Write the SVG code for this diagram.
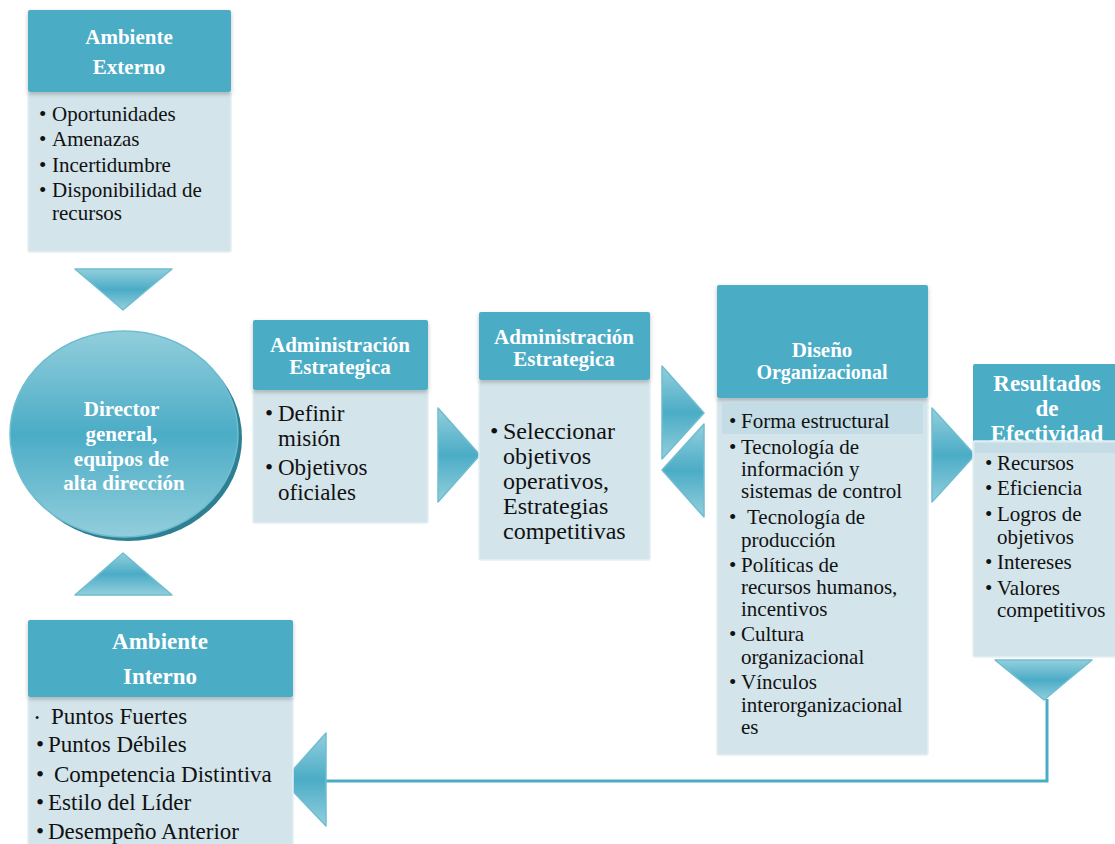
<svg xmlns="http://www.w3.org/2000/svg" width="1115" height="844" viewBox="0 0 1115 844" font-family="'Liberation Serif', 'Times New Roman', Times, serif">
  <defs>
    <linearGradient id="arrowGrad" x1="0" y1="0" x2="0" y2="1">
      <stop offset="0" stop-color="#93CFDD"/>
      <stop offset="0.5" stop-color="#4BACC6"/>
      <stop offset="1" stop-color="#93CFDD"/>
    </linearGradient>
    <linearGradient id="circleGrad" x1="0" y1="0" x2="0" y2="1">
      <stop offset="0" stop-color="#92CEDC"/>
      <stop offset="0.5" stop-color="#4BACC6"/>
      <stop offset="1" stop-color="#92CEDC"/>
    </linearGradient>
    <filter id="hdrShadow" x="-5%" y="-5%" width="110%" height="120%">
      <feDropShadow dx="0" dy="2" stdDeviation="2" flood-color="#000" flood-opacity="0.25"/>
    </filter>
  </defs>
  <style>
    .hdr { fill: #4BACC6; }
    .body { fill: #D3E4EB; stroke: #E3EEF2; stroke-width: 1.5; }
    .band { fill: #C3DCE5; }
    .arrow { fill: url(#arrowGrad); stroke: #6FBDD0; stroke-width: 1.5; stroke-linejoin: round; }
    .ht { font-weight: bold; fill: #FFFFFF; text-anchor: middle; }
    .bt { fill: #111111; }
    .link { fill: none; stroke: #4BACC6; stroke-width: 3; }
  </style>

  <rect width="1115" height="844" fill="#FFFFFF"/>

  <!-- connectors: chevrons and feedback line -->
  <g id="connectors">
    <polyline class="link" points="326,781 1047,781 1047,699"/>
    <polygon class="arrow" points="75,269 172,269 123,310"/>
    <polygon class="arrow" points="75,595 172,595 123,553"/>
    <polygon class="arrow" points="438,408 480,455 438,502"/>
    <polygon class="arrow" points="662,366 704,413 662,459"/>
    <polygon class="arrow" points="704,424 662,470 704,517"/>
    <polygon class="arrow" points="932,408 975,455 932,502"/>
    <polygon class="arrow" points="995,660 1092,660 1044,700"/>
    <polygon class="arrow" points="326,733 326,826 283,781"/>
  </g>

  <!-- Ambiente Externo -->
  <g id="ambiente-externo">
    <rect class="body" x="28" y="92" width="203" height="160" rx="2"/>
    <rect class="hdr" x="28" y="10" width="203" height="82" rx="2" filter="url(#hdrShadow)"/>
    <text class="ht" font-size="21"><tspan x="129" y="44">Ambiente</tspan><tspan x="129" y="74">Externo</tspan></text>
    <text class="bt" font-size="21">
      <tspan x="39" y="121">•</tspan><tspan x="52" y="121">Oportunidades</tspan>
      <tspan x="39" y="146">•</tspan><tspan x="52" y="146">Amenazas</tspan>
      <tspan x="39" y="172">•</tspan><tspan x="52" y="172">Incertidumbre</tspan>
      <tspan x="39" y="197">•</tspan><tspan x="52" y="197">Disponibilidad de</tspan>
      <tspan x="52" y="220">recursos</tspan>
    </text>
  </g>

  <!-- Director general -->
  <g id="director">
    <ellipse cx="128" cy="438" rx="114" ry="103" fill="#2F7F93"/>
    <ellipse cx="124" cy="434" rx="114" ry="103" fill="url(#circleGrad)" stroke="#6FBDD0" stroke-width="1.5"/>
    <text class="ht" font-size="21">
      <tspan x="124" y="416">Director</tspan>
      <tspan x="124" y="441">general,</tspan>
      <tspan x="124" y="466">equipos de</tspan>
      <tspan x="124" y="490">alta dirección</tspan>
    </text>
  </g>

  <!-- Administración Estrategica (misión) -->
  <g id="admin-estrategica-1">
    <rect class="body" x="253" y="390" width="175" height="133" rx="2"/>
    <rect class="hdr" x="253" y="320" width="175" height="70" rx="2" filter="url(#hdrShadow)"/>
    <text class="ht" font-size="21"><tspan x="340" y="352">Administración</tspan><tspan x="340" y="374">Estrategica</tspan></text>
    <text class="bt" font-size="23">
      <tspan x="265" y="421">•</tspan><tspan x="278" y="421">Definir</tspan>
      <tspan x="278" y="446">misión</tspan>
      <tspan x="265" y="475">•</tspan><tspan x="278" y="475">Objetivos</tspan>
      <tspan x="278" y="500">oficiales</tspan>
    </text>
  </g>

  <!-- Administración Estrategica (objetivos operativos) -->
  <g id="admin-estrategica-2">
    <rect class="body" x="479" y="380" width="171" height="180" rx="2"/>
    <rect class="hdr" x="479" y="312" width="171" height="68" rx="2" filter="url(#hdrShadow)"/>
    <text class="ht" font-size="21"><tspan x="564" y="344">Administración</tspan><tspan x="564" y="366">Estrategica</tspan></text>
    <text class="bt" font-size="24">
      <tspan x="490" y="439">•</tspan><tspan x="503" y="439">Seleccionar</tspan>
      <tspan x="503" y="464">objetivos</tspan>
      <tspan x="503" y="489">operativos,</tspan>
      <tspan x="503" y="514">Estrategias</tspan>
      <tspan x="503" y="539">competitivas</tspan>
    </text>
  </g>

  <!-- Diseño Organizacional -->
  <g id="diseno-organizacional">
    <rect class="body" x="717" y="398" width="211" height="357" rx="2"/>
    <rect class="hdr" x="717" y="285" width="211" height="113" rx="2" filter="url(#hdrShadow)"/>
    <rect class="band" x="722" y="403" width="201" height="31"/>
    <text class="ht" font-size="21"><tspan x="822" y="357">Diseño</tspan><tspan x="822" y="379" font-size="20">Organizacional</tspan></text>
    <text class="bt" font-size="21">
      <tspan x="729" y="428">•</tspan><tspan x="741" y="428">Forma estructural</tspan>
      <tspan x="729" y="454">•</tspan><tspan x="741" y="454">Tecnología de</tspan>
      <tspan x="741" y="476">información y</tspan>
      <tspan x="741" y="498">sistemas de control</tspan>
      <tspan x="729" y="524">•</tspan><tspan x="747" y="524">Tecnología de</tspan>
      <tspan x="741" y="547">producción</tspan>
      <tspan x="729" y="572">•</tspan><tspan x="741" y="572">Políticas de</tspan>
      <tspan x="741" y="594">recursos humanos,</tspan>
      <tspan x="741" y="616">incentivos</tspan>
      <tspan x="729" y="641">•</tspan><tspan x="741" y="641">Cultura</tspan>
      <tspan x="741" y="664">organizacional</tspan>
      <tspan x="729" y="689">•</tspan><tspan x="741" y="689">Vínculos</tspan>
      <tspan x="741" y="712">interorganizacional</tspan>
      <tspan x="741" y="734">es</tspan>
    </text>
  </g>

  <!-- Resultados de Efectividad -->
  <g id="resultados-efectividad">
    <rect class="hdr" x="973" y="364" width="145" height="80" rx="2"/>
    <text class="ht" font-size="23"><tspan x="1047" y="391">Resultados</tspan><tspan x="1047" y="416">de</tspan><tspan x="1047" y="441">Efectividad</tspan></text>
    <rect class="body" x="973" y="441" width="145" height="216" rx="2"/>
    <rect class="band" x="975" y="443" width="140" height="10"/>
    <text class="bt" font-size="21">
      <tspan x="985" y="470">•</tspan><tspan x="997" y="470">Recursos</tspan>
      <tspan x="985" y="495">•</tspan><tspan x="997" y="495">Eficiencia</tspan>
      <tspan x="985" y="521">•</tspan><tspan x="997" y="521">Logros de</tspan>
      <tspan x="997" y="544">objetivos</tspan>
      <tspan x="985" y="569">•</tspan><tspan x="997" y="569">Intereses</tspan>
      <tspan x="985" y="595">•</tspan><tspan x="997" y="595">Valores</tspan>
      <tspan x="997" y="617">competitivos</tspan>
    </text>
  </g>

  <!-- Ambiente Interno -->
  <g id="ambiente-interno">
    <rect class="body" x="28" y="697" width="265" height="160" rx="2"/>
    <rect class="hdr" x="28" y="620" width="265" height="77" rx="2" filter="url(#hdrShadow)"/>
    <text class="ht" font-size="23"><tspan x="160" y="649">Ambiente</tspan><tspan x="160" y="684">Interno</tspan></text>
    <text class="bt" font-size="23">
      <tspan x="35" y="722" font-size="12">•</tspan><tspan x="51" y="724">Puntos Fuertes</tspan>
      <tspan x="36" y="752">•</tspan><tspan x="48" y="752">Puntos Débiles</tspan>
      <tspan x="36" y="782">•</tspan><tspan x="54" y="782">Competencia Distintiva</tspan>
      <tspan x="36" y="810">•</tspan><tspan x="48" y="810">Estilo del Líder</tspan>
      <tspan x="36" y="839">•</tspan><tspan x="48" y="839">Desempeño Anterior</tspan>
    </text>
  </g>
</svg>
